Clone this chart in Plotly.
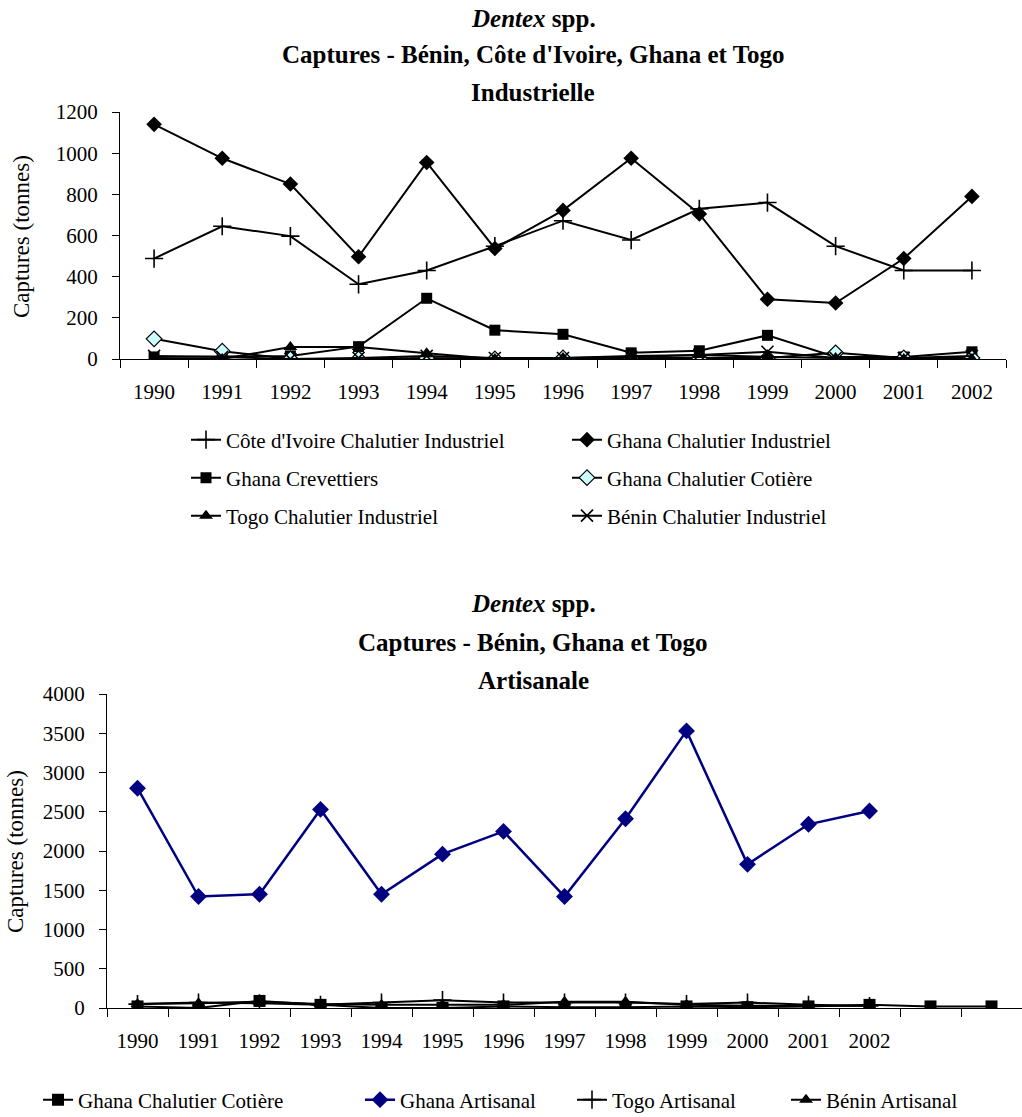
import plotly.graph_objects as go

# ---------------- data ----------------
years = [str(y) for y in range(1990, 2003)]
years_ext = years + ["2003", "2004"]
year_labels_ext = years + ["", ""]

# Top chart: Industrielle (tonnes)
ci_chal_ind = [488, 645, 597, 363, 430, 548, 672, 578, 730, 760, 548, 430, 430]
gh_chal_ind = [1140, 975, 850, 497, 955, 537, 722, 975, 705, 290, 272, 488, 790]
gh_crevettiers = [10, 12, 15, 60, 295, 140, 120, 30, 40, 115, 10, 10, 35]
gh_chal_cot = [98, 38, 0, 0, 5, 0, 5, 5, 5, 5, 30, 5, 5]
togo_chal_ind = [0, 0, 58, 58, 28, 0, 5, 15, 20, 10, 5, 0, 0]
benin_chal_ind = [15, 10, 0, 5, 15, 5, 5, 10, 20, 35, 5, 5, 15]

# Bottom chart: Artisanale (tonnes)
gh_chal_cot_b = [20, 0, 90, 40, 0, 0, 20, 10, 10, 20, 10, 20, 40, 20, 20]
gh_artisanal = [2800, 1420, 1450, 2530, 1450, 1960, 2250, 1420, 2410, 3530, 1830, 2340, 2510]
togo_artisanal = [50, 70, 60, 40, 70, 100, 70, 70, 70, 50, 70, 40, 25]
benin_artisanal = [50, 60, 80, 50, 40, 40, 40, 80, 80, 40, 30, 30, 30]

top_names = ["Côte d'Ivoire Chalutier Industriel", "Ghana Chalutier Industriel",
             "Ghana Crevettiers", "Ghana Chalutier Cotière",
             "Togo Chalutier Industriel", "Bénin Chalutier Industriel"]
bot_names = ["Ghana Chalutier Cotière", "Ghana Artisanal", "Togo Artisanal", "Bénin Artisanal"]

# ---------------- layout helpers ----------------
W, H = 1022, 1117
FONT = "Liberation Serif"
NAVY = "#000080"


def fx(p):
    return p / W


def fy(p):
    return 1 - p / H


fig = go.Figure()

# ---------------- top traces ----------------
top_series = [ci_chal_ind, gh_chal_ind, gh_crevettiers, gh_chal_cot, togo_chal_ind, benin_chal_ind]
top_markers = [
    dict(symbol="cross-thin", size=13, color="black", line=dict(width=1.6, color="black")),
    dict(symbol="diamond", size=12, color="black", line=dict(width=0)),
    dict(symbol="square", size=11, color="black", line=dict(width=0)),
    dict(symbol="diamond", size=12, color="#CCFFFF", line=dict(width=1.2, color="black")),
    dict(symbol="triangle-up", size=12, color="black", line=dict(width=0)),
    dict(symbol="x-thin", size=12, color="black", line=dict(width=1.6, color="black")),
]
top_legends = ["legend", "legend", "legend2", "legend2", "legend3", "legend3"]
for name, vals, mk, lg in zip(top_names, top_series, top_markers, top_legends):
    fig.add_trace(go.Scatter(
        x=years, y=vals, name=name, mode="lines+markers",
        line=dict(color="black", width=2), marker=mk,
        xaxis="x", yaxis="y", legend=lg,
    ))

# ---------------- bottom traces ----------------
bot_series = [(years_ext, gh_chal_cot_b), (years, gh_artisanal), (years, togo_artisanal), (years, benin_artisanal)]
bot_colors = ["black", NAVY, "black", "black"]
bot_markers = [
    dict(symbol="square", size=12, color="black", line=dict(width=0)),
    dict(symbol="diamond", size=13, color=NAVY, line=dict(width=0)),
    dict(symbol="cross-thin", size=13, color="black", line=dict(width=1.6, color="black")),
    dict(symbol="triangle-up", size=12, color="black", line=dict(width=0)),
]
bot_legends = ["legend4", "legend5", "legend6", "legend7"]
for name, (xs, vals), col, mk, lg in zip(bot_names, bot_series, bot_colors, bot_markers, bot_legends):
    fig.add_trace(go.Scatter(
        x=xs, y=vals, name=name, mode="lines+markers",
        line=dict(color=col, width=2.5 if col == NAVY else 2), marker=mk,
        xaxis="x2", yaxis="y2", legend=lg,
    ))

axis_font = dict(family=FONT, size=21, color="black")
common_x = dict(type="category", showline=True, linecolor="black", linewidth=1,
                ticks="outside", ticklen=8, tickcolor="black", tickson="boundaries",
                showgrid=False, zeroline=False, tickfont=axis_font, ticklabelstandoff=14,
                automargin=False)
common_y = dict(showline=True, linecolor="black", linewidth=1, ticks="outside", ticklen=7,
                tickcolor="black", showgrid=False, zeroline=False, tickfont=axis_font,
                ticklabelstandoff=10, automargin=False)

leg_font = dict(family=FONT, size=21, color="black")


def leg(xp, yp, entrywidth=None):
    d = dict(x=fx(xp), y=fy(yp), xanchor="left", yanchor="middle", orientation="h",
             font=leg_font, bgcolor="rgba(0,0,0,0)", borderwidth=0, itemwidth=30)
    if entrywidth is not None:
        d["entrywidth"] = entrywidth
        d["entrywidthmode"] = "pixels"
    return d


annotations = []
for txt, yp in [("<b><i>Dentex</i> spp.</b>", 18), ("<b>Captures - Bénin, Côte d'Ivoire, Ghana et Togo</b>", 55),
                ("<b>Industrielle</b>", 92),
                ("<b><i>Dentex</i> spp.</b>", 603), ("<b>Captures - Bénin, Ghana et Togo</b>", 642),
                ("<b>Artisanale</b>", 680)]:
    annotations.append(dict(text=txt, x=fx(533), y=fy(yp), xref="paper", yref="paper",
                            xanchor="center", yanchor="middle", showarrow=False,
                            font=dict(family=FONT, size=25, color="black")))
for xp, yp in [(22, 237), (15, 852)]:
    annotations.append(dict(text="Captures (tonnes)", x=fx(xp), y=fy(yp), xref="paper", yref="paper",
                            xanchor="center", yanchor="middle", showarrow=False, textangle=-90,
                            font=dict(family=FONT, size=23, color="black")))

fig.update_layout(
    width=W, height=H,
    margin=dict(l=0, r=0, t=0, b=0, autoexpand=False),
    paper_bgcolor="white", plot_bgcolor="white",
    font=dict(family=FONT, color="black"),
    xaxis=dict(common_x, domain=[fx(120), fx(1006)], anchor="y", categoryorder="array",
               categoryarray=years, range=[-0.5, len(years) - 0.5]),
    yaxis=dict(common_y, domain=[fy(359), fy(112)], anchor="x", range=[0, 1200], dtick=200),
    xaxis2=dict(common_x, domain=[fx(107), 1.0], anchor="y2", categoryorder="array",
                categoryarray=years_ext, tickmode="array", tickvals=years_ext, ticktext=year_labels_ext,
                range=[-0.5, len(years_ext) - 0.5]),
    yaxis2=dict(common_y, domain=[fy(1008), fy(694)], anchor="x2", range=[0, 4000], dtick=500),
    legend=leg(186, 440, 336),
    legend2=leg(186, 478, 336),
    legend3=leg(186, 516, 336),
    legend4=leg(38, 1100),
    legend5=leg(360, 1100),
    legend6=leg(572, 1100),
    legend7=leg(786, 1100),
    annotations=annotations,
    showlegend=True,
)

fig.write_html("out.html", config={"displayModeBar": False},
               post_script="document.body.style.margin='0';")
